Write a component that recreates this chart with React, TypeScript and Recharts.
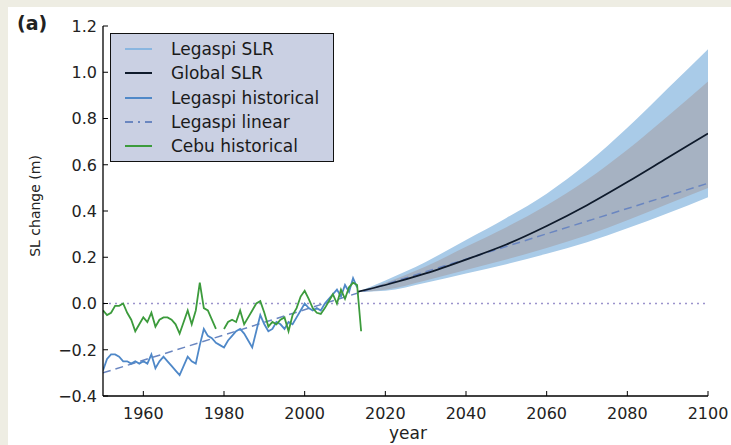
import {
  Area,
  ComposedChart,
  Line,
  ReferenceLine,
  XAxis,
  YAxis,
} from 'recharts';

const FONT = '"DejaVu Sans", sans-serif';

// historical tide-gauge records, annual means (m)
const histYears = [
  1950, 1951, 1952, 1953, 1954, 1955, 1956, 1957, 1958, 1959,
  1960, 1961, 1962, 1963, 1964, 1965, 1966, 1967, 1968, 1969,
  1970, 1971, 1972, 1973, 1974, 1975, 1976, 1977, 1978, 1979,
  1980, 1981, 1982, 1983, 1984, 1985, 1986, 1987, 1988, 1989,
  1990, 1991, 1992, 1993, 1994, 1995, 1996, 1997, 1998, 1999,
  2000, 2001, 2002, 2003, 2004, 2005, 2006, 2007, 2008, 2009,
  2010, 2011, 2012, 2013, 2014,
];

const legaspiHist = [
  -0.29, -0.24, -0.22, -0.22, -0.23, -0.25, -0.25, -0.26, -0.25, -0.26,
  -0.25, -0.26, -0.22, -0.28, -0.25, -0.23, -0.25, -0.27, -0.29, -0.31,
  -0.27, -0.23, -0.25, -0.26, -0.18, -0.11, -0.14, -0.15, -0.17, -0.18,
  -0.19, -0.16, -0.14, -0.12, -0.11, -0.13, -0.16, -0.19, -0.12, -0.05,
  -0.09, -0.12, -0.11, -0.08, -0.09, -0.11, -0.08, -0.09, -0.06, -0.03,
  0.0, -0.02, -0.03, -0.02, -0.03, 0.0, 0.02, 0.04, 0.06, 0.03,
  0.08, 0.05, 0.11, 0.07, null,
];

const cebuHist = [
  -0.03, -0.05, -0.04, -0.01, -0.01, 0.0, -0.04, -0.07, -0.12, -0.09,
  -0.06, -0.08, -0.04, -0.1, -0.07, -0.06, -0.06, -0.07, -0.09, -0.13,
  -0.08, -0.03, -0.09, -0.03, 0.09, -0.02, -0.03, -0.07, -0.11, null,
  -0.11, -0.08, -0.07, -0.08, -0.03, -0.09, -0.06, -0.03, 0.0, 0.01,
  -0.04, -0.1, -0.08, -0.09, -0.07, -0.06, -0.12, -0.05, -0.02, 0.03,
  0.055, 0.02, -0.02, -0.04, -0.045, -0.02, 0.01, 0.04, 0.0, 0.06,
  0.02, 0.07, 0.09, 0.08, -0.12,
];

// projections
const projYears = [2013, 2020, 2030, 2040, 2050, 2060, 2070, 2080, 2090, 2100];
const globalSlr = [0.05, 0.08, 0.13, 0.19, 0.255, 0.335, 0.425, 0.525, 0.63, 0.735];
const globalLow = [0.05, 0.06, 0.1, 0.145, 0.19, 0.24, 0.295, 0.36, 0.43, 0.5];
const globalHigh = [0.05, 0.09, 0.16, 0.245, 0.33, 0.425, 0.535, 0.665, 0.81, 0.96];
const legaspiLow = [0.05, 0.055, 0.09, 0.13, 0.17, 0.215, 0.265, 0.325, 0.39, 0.46];
const legaspiHigh = [0.05, 0.1, 0.18, 0.275, 0.37, 0.475, 0.605, 0.76, 0.93, 1.1];

// linear fit of Legaspi record
const linearYears = [1950, 2100];
const linearVals = [-0.3, 0.52];

const xTicks = [1960, 1980, 2000, 2020, 2040, 2060, 2080, 2100];
const yTicks = [-0.4, -0.2, 0, 0.2, 0.4, 0.6, 0.8, 1.0, 1.2];

const COLORS = {
  legaspiBand: '#a9cbe8',
  globalBand: '#a6b2c2',
  legaspiSlr: '#8ab6e0',
  global: '#0e1a2b',
  legaspi: '#4f88c8',
  linear: '#6a86c0',
  cebu: '#3c9b3c',
  zero: '#9b93cc',
};

type Row = Record<string, any>;

function buildData(): Row[] {
  const rows = new Map<number, Row>();
  const get = (y: number) => {
    if (!rows.has(y)) rows.set(y, { year: y });
    return rows.get(y)!;
  };
  histYears.forEach((y, i) => {
    const r = get(y);
    r.legaspi = legaspiHist[i];
    r.cebu = cebuHist[i];
  });
  projYears.forEach((y, i) => {
    const r = get(y);
    r.global = globalSlr[i];
    r.globalBand = [globalLow[i], globalHigh[i]];
    r.legaspiBand = [legaspiLow[i], legaspiHigh[i]];
  });
  linearYears.forEach((y, i) => {
    get(y).linear = linearVals[i];
  });
  return Array.from(rows.values()).sort((a, b) => a.year - b.year);
}

const data = buildData();

const fmtY = (v: number) => v.toFixed(1).replace('-', '\u2212');

const BottomTick = ({ x, y, payload }: any) => (
  <g>
    <line x1={x} x2={x} y1={y} y2={y - 5} stroke="#000" />
    <text x={x} y={y + 23} textAnchor="middle" fontSize={16} fontFamily={FONT} fill="#222">
      {payload.value}
    </text>
  </g>
);

const TopTick = ({ x, y }: any) => <line x1={x} x2={x} y1={y} y2={y + 5} stroke="#000" />;

const LeftTick = ({ x, y, payload }: any) => (
  <g>
    <line x1={x} x2={x + 5} y1={y} y2={y} stroke="#000" />
    <text x={x - 6} y={y} dy="0.36em" textAnchor="end" fontSize={16} fontFamily={FONT} fill="#222">
      {fmtY(payload.value)}
    </text>
  </g>
);

const RightTick = ({ x, y }: any) => <line x1={x} x2={x - 5} y1={y} y2={y} stroke="#000" />;

const legendItems = [
  { label: 'Legaspi SLR', color: COLORS.legaspiSlr, dash: undefined },
  { label: 'Global SLR', color: COLORS.global, dash: undefined },
  { label: 'Legaspi historical', color: COLORS.legaspi, dash: undefined },
  { label: 'Legaspi linear', color: COLORS.linear, dash: '8 5 2 5' },
  { label: 'Cebu historical', color: COLORS.cebu, dash: undefined },
];

export default function App() {
  return (
    <div
      style={{
        position: 'fixed',
        left: 0,
        top: 0,
        width: 731,
        height: 445,
        overflow: 'hidden',
        background: '#eeede3',
        fontFamily: FONT,
      }}
    >
      <div style={{ position: 'absolute', left: 8, top: 7, right: 0, bottom: 0, background: '#fff' }} />
      <div style={{ position: 'absolute', left: 0, top: 0 }}>
        <ComposedChart width={731} height={445} data={data} margin={{ top: 26, right: 23, bottom: 19, left: 43 }}>
          <XAxis
            dataKey="year"
            type="number"
            domain={[1950, 2100]}
            ticks={xTicks}
            allowDataOverflow
            height={30}
            tickSize={0}
            tickMargin={0}
            tickLine={false}
            tick={<BottomTick />}
            axisLine={{ stroke: '#000', strokeWidth: 1.3 }}
          />
          <XAxis
            xAxisId="top"
            orientation="top"
            dataKey="year"
            type="number"
            domain={[1950, 2100]}
            ticks={xTicks}
            allowDataOverflow
            height={0}
            tickSize={0}
            tickMargin={0}
            tickLine={false}
            tick={<TopTick />}
            axisLine={{ stroke: '#000', strokeWidth: 1.3 }}
          />
          <YAxis
            type="number"
            domain={[-0.4, 1.2]}
            ticks={yTicks}
            allowDataOverflow
            width={60}
            tickSize={0}
            tickMargin={0}
            tickLine={false}
            tick={<LeftTick />}
            axisLine={{ stroke: '#000', strokeWidth: 1.3 }}
          />
          <YAxis
            yAxisId="right"
            orientation="right"
            type="number"
            domain={[-0.4, 1.2]}
            ticks={yTicks}
            allowDataOverflow
            width={0}
            tickSize={0}
            tickMargin={0}
            tickLine={false}
            tick={<RightTick />}
            axisLine={{ stroke: '#000', strokeWidth: 1.3 }}
          />
          <ReferenceLine y={0} stroke={COLORS.zero} strokeWidth={1.6} strokeDasharray="2 4" />
          <Area
            dataKey="legaspiBand"
            type="monotone"
            stroke="none"
            fill={COLORS.legaspiBand}
            fillOpacity={1}
            connectNulls
            isAnimationActive={false}
          />
          <Area
            dataKey="globalBand"
            type="monotone"
            stroke="none"
            fill={COLORS.globalBand}
            fillOpacity={1}
            connectNulls
            isAnimationActive={false}
          />
          <Line
            dataKey="linear"
            type="linear"
            stroke={COLORS.linear}
            strokeWidth={1.5}
            strokeDasharray="8 5"
            dot={false}
            connectNulls
            isAnimationActive={false}
          />
          <Line
            dataKey="global"
            type="monotone"
            stroke={COLORS.global}
            strokeWidth={1.8}
            dot={false}
            connectNulls
            isAnimationActive={false}
          />
          <Line
            dataKey="legaspi"
            type="linear"
            stroke={COLORS.legaspi}
            strokeWidth={1.8}
            dot={false}
            isAnimationActive={false}
          />
          <Line
            dataKey="cebu"
            type="linear"
            stroke={COLORS.cebu}
            strokeWidth={1.8}
            dot={false}
            isAnimationActive={false}
          />
        </ComposedChart>
      </div>

      <svg width={731} height={445} style={{ position: 'absolute', left: 0, top: 0, pointerEvents: 'none' }}>
        <text x={17} y={30} fontSize={19} fontWeight="bold" fill="#222" fontFamily={FONT}>
          (a)
        </text>
        <text x={408} y={439} textAnchor="middle" fontSize={17} fill="#222" fontFamily={FONT}>
          year
        </text>
        <text
          x={35}
          y={206}
          textAnchor="middle"
          dominantBaseline="central"
          fontSize={14}
          fill="#222"
          fontFamily={FONT}
          transform="rotate(-90 35 206)"
        >
          SL change (m)
        </text>
      </svg>

      <div
        style={{
          position: 'absolute',
          left: 110,
          top: 33,
          width: 222,
          height: 127,
          background: '#cad0e3',
          border: '1.5px solid #111',
          boxSizing: 'content-box',
        }}
      >
        {legendItems.map((item, i) => (
          <div
            key={item.label}
            style={{ position: 'absolute', left: 0, top: 3 + i * 24.3, height: 24, display: 'flex', alignItems: 'center' }}
          >
            <svg width={60} height={24}>
              <line
                x1={14}
                x2={41}
                y1={12}
                y2={12}
                stroke={item.color}
                strokeWidth={2}
                strokeDasharray={item.dash}
              />
            </svg>
            <span style={{ fontSize: 17, color: '#1a1a1a', whiteSpace: 'nowrap' }}>{item.label}</span>
          </div>
        ))}
      </div>
    </div>
  );
}
